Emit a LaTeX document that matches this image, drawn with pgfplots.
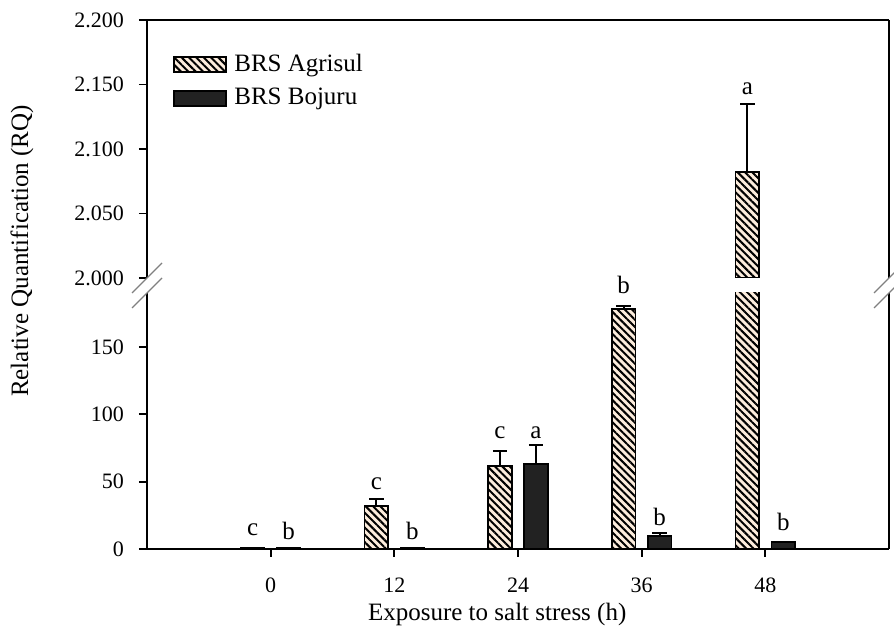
\documentclass[border=0pt]{standalone}
\usepackage{pgfplots}
\pgfplotsset{compat=1.18}
\usepackage{pgfplotstable}
\usetikzlibrary{patterns.meta}
\usepackage{fontspec}
\setmainfont{Liberation Serif}
\definecolor{beige}{RGB}{252,236,220}
\definecolor{darkbar}{RGB}{34,34,34}

% bar values (RQ)
\pgfplotstableread{
x A B
0 1.0 1.0
1 32.0 0.8
2 61.7 63.2
3 178.0 9.7
4 2082 5.2
}\bars
\pgfplotstableread{
x A
4 2082
}\barsup
% error bars (upper only), x already shifted to bar centres
\pgfplotstableread{
x y e
0.8544 32.0 5.0
1.8544 61.7 11.1
2.8544 178.0 2.5
}\errA
\pgfplotstableread{
x y e
2.1456 63.2 13.8
3.1456 9.7 2.2
}\errB
\pgfplotstableread{
x y e
3.8544 2082 53
}\errAup
% significance letters (centre positions)
\pgfplotstableread{
x y l
-0.1456 14.1 c
0.1456 13.4 b
0.8544 48.3 c
1.1456 13.4 b
1.8544 86.2 c
2.1456 86.2 a
3.1456 23.8 b
4.1456 20.1 b
}\letlo
% letter above the 36 h Agrisul bar: anchored at the error-bar top (180.5), raised 10.4pt
\pgfplotstableread{
x y l
2.8544 180.5 b
}\letgap
\pgfplotstableread{
x y l
3.8544 2146.5 a
}\letup

\pgfplotsset{
  agri/.style={ybar, bar width=11.75pt, bar shift=-9pt, draw=black, line width=0.9pt,
    fill=beige, postaction={pattern={Lines[angle=-45,distance=2.6pt,line width=1pt]}, pattern color=black}},
  boju/.style={ybar, bar width=11.75pt, bar shift=9pt, draw=black, line width=0.9pt, fill=darkbar},
  mylegend/.style={legend image code/.code={\draw[##1, line width=0.9pt] (0pt,-3.75pt) rectangle (26pt,3.75pt);}},
  errs/.style={forget plot, draw=none, mark=none,
    error bars/y dir=plus, error bars/y explicit, error bars/error mark=-,
    error bars/error bar style={draw=black, solid, line width=0.9pt},
    error bars/error mark options={rotate=90, draw=black, mark size=3.6pt, line width=0.9pt}},
  letters/.style={forget plot, only marks, mark=none, nodes near coords, point meta=explicit symbolic,
    nodes near coords align={center},
    every node near coord/.append style={font=\fontsize{12.5}{14}\selectfont, inner sep=0pt, text=black}},
  common/.style={scale only axis, width=371pt, xmin=-1, xmax=5,
    axis y line*=box, ytick pos=left, tick align=outside,
    major tick length=4pt, tick style={black, line width=0.9pt},
    axis line style={line width=0.9pt, -},
    tick label style={font=\fontsize{11}{13}\selectfont},
    yticklabel style={xshift=-4pt},
    xticklabel style={yshift=-7pt},
    /pgf/number format/assume math mode=true,
    scaled y ticks=false},
}

\begin{document}
\begin{tikzpicture}
\begin{axis}[common, name=lo, at={(0,0)}, anchor=south west, height=128pt,
  ymin=0, ymax=190, axis x line*=bottom,
  xtick={0,1,2,3,4}, xticklabels={0,12,24,36,48},
  ytick={0,50,100,150},
  xlabel={Exposure to salt stress (h)},
  ylabel={Relative Quantification (RQ)},
  label style={font=\fontsize{12.5}{14}\selectfont},
  x label style={at={(axis description cs:0.472,-0.256)}, anchor=center},
  y label style={at={(axis description cs:-0.1685,1.164)}, anchor=center},
]
\addplot[agri] table[x=x, y=A] {\bars};
\addplot[boju] table[x=x, y=B] {\bars};
\addplot[errs] table[x=x, y=y, y error=e] {\errA};
\addplot[errs] table[x=x, y=y, y error=e] {\errB};
\addplot[letters] table[x=x, y=y, meta=l] {\letlo};
\addplot[letters, every node near coord/.append style={yshift=10.4pt}] table[x=x, y=y, meta=l] {\letgap};
\end{axis}

\begin{axis}[common, name=up, at={(0,135.5pt)}, anchor=south west, height=129pt,
  ymin=2000, ymax=2200, axis x line*=top, xtick=\empty,
  ytick={2000,2050,2100,2150,2200},
  yticklabel={\pgfmathprintnumber[fixed, precision=0, 1000 sep={.}, assume math mode=true]{\tick}},
  legend style={draw=none, fill=none, at={(0.035,0.885)}, anchor=north west,
    font=\fontsize{12.5}{14}\selectfont, row sep=3pt, inner sep=0pt, cells={anchor=west},
    nodes={inner xsep=3.6pt}},
]
\addplot[agri, mylegend] table[x=x, y=A] {\barsup};
\addlegendentry{BRS Agrisul}
\addlegendimage{boju, mylegend}
\addlegendentry{BRS Bojuru}
\addplot[errs] table[x=x, y=y, y error=e] {\errAup};
\addplot[letters] table[x=x, y=y, meta=l] {\letup};
\end{axis}

% axis break marks
\foreach \c in {lo.north west, up.south west, lo.north east, up.south east}{
  \draw[gray, line width=0.6pt] ([shift={(-7.5pt,-7.5pt)}]\c) -- ([shift={(7.5pt,7.5pt)}]\c);
}
\pgfresetboundingbox
\path[use as bounding box] ([shift={(-73.5pt,-38.5pt)}]lo.south west) rectangle ([shift={(373.5pt,274.5pt)}]lo.south west);
\end{tikzpicture}
\end{document}
